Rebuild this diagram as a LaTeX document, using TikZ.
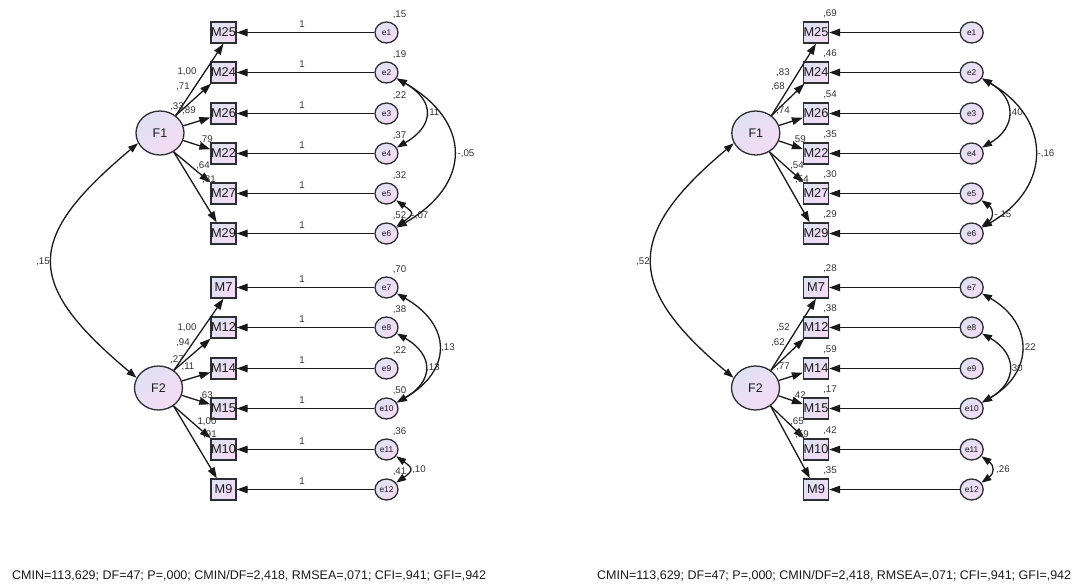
\documentclass[tikz,border=0pt]{standalone}
\usepackage{fontspec}
\setmainfont{Liberation Sans}
\usetikzlibrary{arrows.meta,shapes.geometric}
\definecolor{lavA}{RGB}{224,225,243}
\definecolor{lavB}{RGB}{245,219,245}
\definecolor{ink}{RGB}{25,25,28}
\definecolor{rim}{RGB}{45,45,52}
\definecolor{numc}{RGB}{50,50,54}
\tikzset{
  shaded/.style={draw=rim, line width=1.3pt, top color=lavA, bottom color=lavB, shading angle=45},
  obs/.style={shaded, rectangle, minimum width=25pt, minimum height=21pt, inner sep=0pt,
    text=ink, font=\fontsize{12.8}{12.8}\selectfont},
  lat/.style={shaded, ellipse, minimum width=48pt, minimum height=44pt, inner sep=0pt,
    text=ink, font=\fontsize{12.5}{12.5}\selectfont},
  err/.style={shaded, ellipse, minimum width=23pt, minimum height=21pt, inner sep=0pt,
    text=ink, font=\fontsize{8.3}{8.3}\selectfont},
  est/.style={inner sep=0pt, text=numc, font=\fontsize{9.7}{9.7}\selectfont},
  loadarrow/.style={draw=ink, line width=1.3pt, -{Triangle[length=11pt,width=7.5pt]}},
  covar/.style={draw=ink, line width=1.3pt,
    {Triangle[length=10pt,width=7pt]}-{Triangle[length=10pt,width=7pt]}},
  fitline/.style={inner sep=0pt, anchor=west, text=ink, font=\fontsize{12.5}{12.5}\selectfont}
}
\begin{document}
\begin{tikzpicture}[x=1pt,y=-1pt]
\useasboundingbox (0,0) rectangle (1085,585);

% ---------- unstandardized model (left) ----------
\foreach \i/\m/\y/\v in {1/25/32.5/{,15}, 2/24/72.5/{,19}, 3/26/113.5/{,22}, 4/22/153.5/{,37},
    5/27/193.5/{,32}, 6/29/233.5/{,52}, 7/7/287.5/{,70}, 8/12/327.5/{,38}, 9/14/368.5/{,22},
    10/15/408.5/{,50}, 11/10/449.5/{,36}, 12/9/489.5/{,41}} {
  \node[obs] (lM\m) at (223.5,\y) {M\m};
  \node[err] (le\i) at (386.5,\y) {e\i};
  \draw[loadarrow] (le\i) -- (lM\m);
  \node[est] (lone\i) at (302,\y-8.5) {1};
  \node[est] (lvar\i) at (399.5,\y-18) {\v};
}
\node[lat] (lF1) at (160,133) {F1};
\node[lat] (lF2) at (158.5,388) {F2};
\draw[loadarrow] (lF1.48) -- (lM25.south);
\draw[loadarrow] (lF1.48) -- (lM24);
\draw[loadarrow] (lF1) -- (lM26);
\draw[loadarrow] (lF1) -- (lM22);
\draw[loadarrow] (lF1.-54) -- (lM27);
\draw[loadarrow] (lF1.-54) -- (lM29);
\draw[loadarrow] (lF2.49) -- (lM7.south);
\draw[loadarrow] (lF2.49) -- (lM12);
\draw[loadarrow] (lF2) -- (lM14);
\draw[loadarrow] (lF2) -- (lM15);
\draw[loadarrow] (lF2.-50) -- (lM10);
\draw[loadarrow] (lF2.-50) -- (lM9);

\foreach \t/\x/\y [count=\k] in {{1,00}/187/72, {,71}/183/87, {,33}/177/107, {,89}/189/111,
    {,79}/206/140, {,64}/203/166, {,81}/209/180,
    {1,00}/187/328, {,94}/183/343, {,27}/177/360, {,11}/188/367,
    {,63}/206/396, {1,00}/207/422, {,91}/210/435}
  \node[est] (lload\k) at (\x,\y) {\t};

% covariances
\draw[covar] (lF1.205) .. controls +(220:148pt) and +(140:148pt) .. (lF2.155);
\node[est] (lfcov) at (43,262) {,15};
\draw[covar] (le2.-30) .. controls +(-30:44pt) and +(30:44pt) .. (le4.30);
\draw[covar] (le2.-30) .. controls +(-30:87pt) and +(30:87pt) .. (le6.30);
\draw[covar] (le5.-35) .. controls +(-35:22pt) and +(35:22pt) .. (le6.35);
\draw[covar] (le7.-30) .. controls +(-30:64pt) and +(30:64pt) .. (le10.30);
\draw[covar] (le8.-30) .. controls +(-30:43pt) and +(30:43pt) .. (le10.30);
\draw[covar] (le11.-35) .. controls +(-35:21pt) and +(35:21pt) .. (le12.35);
\node[est] (lc1) at (433,113) {,11};
\node[est] (lc2) at (466,154) {-,05};
\node[est] (lc3) at (420,216) {-,07};
\node[est] (lc4) at (448,348) {,13};
\node[est] (lc5) at (433,368) {,13};
\node[est] (lc6) at (419,470) {,10};

\node[fitline] (lfit) at (12,576) {CMIN=113,629; DF=47; P=,000; CMIN/DF=2,418, RMSEA=,071; CFI=,941; GFI=,942};

% ---------- standardized model (right) ----------
\foreach \i/\m/\y/\v in {1/25/32.5/{,69}, 2/24/72.5/{,46}, 3/26/113.5/{,54}, 4/22/153.5/{,35},
    5/27/193.5/{,30}, 6/29/233.5/{,29}, 7/7/287.5/{,28}, 8/12/327.5/{,38}, 9/14/368.5/{,59},
    10/15/408.5/{,17}, 11/10/449.5/{,42}, 12/9/489.5/{,35}} {
  \node[obs] (rM\m) at (816,\y) {M\m};
  \node[err] (re\i) at (971.7,\y) {e\i};
  \draw[loadarrow] (re\i) -- (rM\m);
  \node[est] (rsmc\i) at (830,\y-19) {\v};
}
\node[lat] (rF1) at (755.8,133) {F1};
\node[lat] (rF2) at (755.5,388) {F2};
\draw[loadarrow] (rF1.48) -- (rM25.south);
\draw[loadarrow] (rF1.48) -- (rM24);
\draw[loadarrow] (rF1) -- (rM26);
\draw[loadarrow] (rF1) -- (rM22);
\draw[loadarrow] (rF1.-54) -- (rM27);
\draw[loadarrow] (rF1.-54) -- (rM29);
\draw[loadarrow] (rF2.49) -- (rM7.south);
\draw[loadarrow] (rF2.49) -- (rM12);
\draw[loadarrow] (rF2) -- (rM14);
\draw[loadarrow] (rF2) -- (rM15);
\draw[loadarrow] (rF2.-50) -- (rM10);
\draw[loadarrow] (rF2.-50) -- (rM9);

\foreach \t/\x/\y [count=\k] in {{,83}/783/73, {,68}/778/87, {,74}/783/111,
    {,59}/799/140, {,54}/797/166, {,54}/802/180,
    {,52}/783/328, {,62}/778/343, {,77}/783/367,
    {,42}/799/396, {,65}/797/422, {,59}/802/435}
  \node[est] (rload\k) at (\x,\y) {\t};

\draw[covar] (rF1.205) .. controls +(220:142pt) and +(140:142pt) .. (rF2.155);
\node[est] (rfcov) at (643,262) {,52};
\draw[covar] (re2.-30) .. controls +(-30:40pt) and +(30:40pt) .. (re4.30);
\draw[covar] (re2.-30) .. controls +(-30:81pt) and +(30:81pt) .. (re6.30);
\draw[covar] (re5.-35) .. controls +(-35:15pt) and +(35:15pt) .. (re6.35);
\draw[covar] (re7.-30) .. controls +(-30:60pt) and +(30:60pt) .. (re10.30);
\draw[covar] (re8.-30) .. controls +(-30:41pt) and +(30:41pt) .. (re10.30);
\draw[covar] (re11.-35) .. controls +(-35:16pt) and +(35:16pt) .. (re12.35);
\node[est] (rc1) at (1016,113) {,40};
\node[est] (rc2) at (1046,154) {-,16};
\node[est] (rc3) at (1003,215) {-,15};
\node[est] (rc4) at (1029,348) {,22};
\node[est] (rc5) at (1016,369) {,30};
\node[est] (rc6) at (1003,470) {,26};

\node[fitline] (rfit) at (597,576) {CMIN=113,629; DF=47; P=,000; CMIN/DF=2,418, RMSEA=,071; CFI=,941; GFI=,942};
\end{tikzpicture}
\end{document}
